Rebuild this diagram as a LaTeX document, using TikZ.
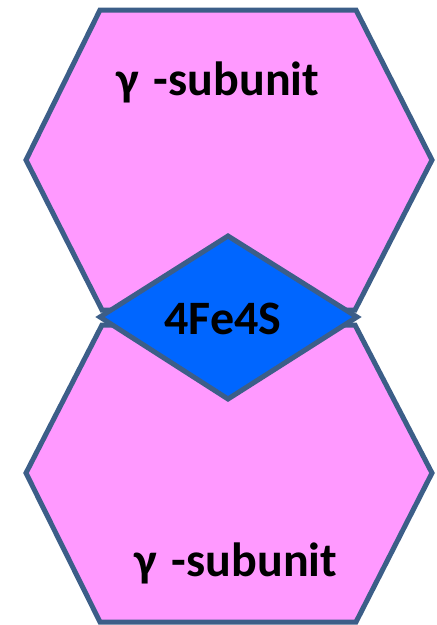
\documentclass[tikz,border=0pt]{standalone}
\usepackage{fontspec}
\setmainfont{Carlito}
\usepackage{xcolor}
\usepackage{tikz}
\usetikzlibrary{positioning}
\definecolor{pinkfill}{HTML}{FF99FF}
\definecolor{edgeblue}{HTML}{3C5E88}
\definecolor{clusterblue}{HTML}{0066FF}

\begin{document}
\begin{tikzpicture}[x=1pt, y=-1pt,
    subunit/.style={draw=edgeblue, fill=pinkfill, line width=5pt, line join=miter},
    cluster/.style={draw=edgeblue, fill=clusterblue, line width=5pt, line join=miter},
    lbl/.style={font=\fontsize{48}{52}\selectfont\bfseries, inner sep=0pt, anchor=base}]
  \useasboundingbox (0,0) rectangle (437,625);
  % upper gamma subunit
  \draw[subunit] (100,10) -- (356,10) -- (432,160) -- (355,310)
    -- (102,310) -- (26,160) -- cycle;
  % lower gamma subunit
  \draw[subunit] (102,325) -- (355,325) -- (432,473) -- (356,622)
    -- (100,622) -- (26,473) -- cycle;
  % iron-sulphur cluster
  \draw[cluster] (100,317) -- (228,236) -- (357,317) -- (228,399) -- cycle;
  \node[lbl] (upper) at (218,95) {γ\hspace{4pt} -subunit};
  \node[lbl] (fes) at (223,334) {4Fe4S};
  \node[lbl] (lower) at (236,576) {γ\hspace{4pt} -subunit};
\end{tikzpicture}
\end{document}
